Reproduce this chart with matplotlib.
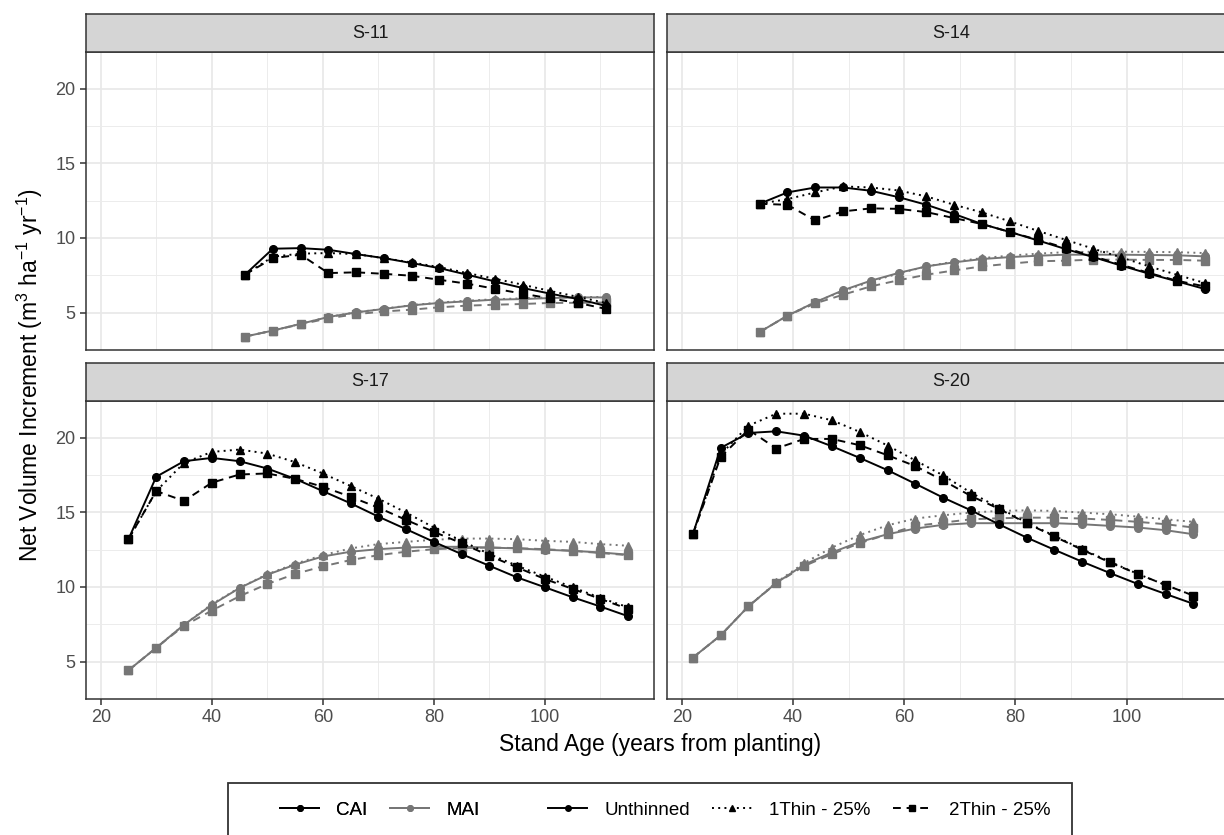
import matplotlib
matplotlib.use("Agg")
import matplotlib.pyplot as plt
from matplotlib.lines import Line2D
from matplotlib.patches import Rectangle

plt.rcParams['font.family'] = ['Liberation Sans', 'DejaVu Sans']
plt.rcParams['mathtext.fontset'] = 'custom'
plt.rcParams['mathtext.rm'] = 'Liberation Sans'
plt.rcParams['mathtext.it'] = 'Liberation Sans'

# Stand ages per site
age_s11 = [46, 51, 56, 61, 66, 71, 76, 81, 86, 91, 96, 101, 106, 111]
age_s14 = [34, 39, 44, 49, 54, 59, 64, 69, 74, 79, 84, 89, 94, 99, 104, 109, 114]
age_s17 = [25, 30, 35, 40, 45, 50, 55, 60, 65, 70, 75, 80, 85, 90, 95, 100, 105, 110, 115]
age_s20 = [22, 27, 32, 37, 42, 47, 52, 57, 62, 67, 72, 77, 82, 87, 92, 97, 102, 107, 112]

# CAI values
cai_s11_un = [7.55, 9.28, 9.32, 9.21, 8.92, 8.65, 8.32, 7.98, 7.54, 7.09, 6.65, 6.27, 5.91, 5.45]
cai_s11_t1 = [7.55, 8.75, 8.95, 8.99, 8.92, 8.65, 8.36, 8.05, 7.65, 7.27, 6.87, 6.45, 6.05, 5.65]
cai_s11_t2 = [7.55, 8.65, 8.88, 7.65, 7.70, 7.60, 7.47, 7.20, 6.94, 6.60, 6.27, 5.95, 5.65, 5.25]

cai_s14_un = [12.29, 13.05, 13.38, 13.38, 13.16, 12.73, 12.22, 11.60, 10.93, 10.40, 9.84, 9.26, 8.72, 8.15, 7.61, 7.10, 6.59]
cai_s14_t1 = [12.29, 12.60, 13.05, 13.45, 13.38, 13.18, 12.78, 12.22, 11.71, 11.11, 10.48, 9.88, 9.28, 8.70, 8.10, 7.54, 6.99]
cai_s14_t2 = [12.29, 12.22, 11.17, 11.78, 11.98, 11.95, 11.73, 11.33, 10.93, 10.40, 9.88, 9.33, 8.77, 8.21, 7.66, 7.14, 6.76]

cai_s17_un = [13.2, 17.38, 18.42, 18.64, 18.42, 17.93, 17.24, 16.42, 15.6, 14.71, 13.87, 13.02, 12.2, 11.42, 10.64, 9.98, 9.31, 8.69, 8.04]
cai_s17_t1 = [13.2, 16.42, 18.31, 19.04, 19.2, 18.93, 18.36, 17.6, 16.76, 15.91, 14.98, 13.98, 13.09, 12.2, 11.42, 10.69, 9.98, 9.27, 8.64]
cai_s17_t2 = [13.2, 16.42, 15.76, 16.98, 17.53, 17.6, 17.24, 16.71, 16.04, 15.31, 14.49, 13.69, 12.93, 12.09, 11.31, 10.53, 9.87, 9.2, 8.53]

cai_s20_un = [13.53, 19.31, 20.31, 20.42, 20.13, 19.42, 18.64, 17.82, 16.91, 15.98, 15.13, 14.2, 13.31, 12.49, 11.69, 10.93, 10.2, 9.53, 8.87]
cai_s20_t1 = [13.53, 18.87, 20.8, 21.6, 21.6, 21.16, 20.38, 19.47, 18.47, 17.47, 16.31, 15.31, 14.31, 13.42, 12.53, 11.69, 10.87, 10.13, 9.42]
cai_s20_t2 = [13.53, 18.71, 20.53, 19.27, 19.91, 19.91, 19.49, 18.82, 18.09, 17.13, 16.09, 15.24, 14.27, 13.38, 12.49, 11.64, 10.87, 10.13, 9.42]

# MAI values
mai_s11_un = [3.4, 3.8, 4.25, 4.71, 5.02, 5.25, 5.49, 5.65, 5.76, 5.87, 5.91, 5.98, 6.02, 6.02]
mai_s11_t1 = [3.4, 3.8, 4.25, 4.71, 5.02, 5.27, 5.5, 5.68, 5.8, 5.9, 5.96, 6.02, 6.05, 6.05]
mai_s11_t2 = [3.4, 3.8, 4.22, 4.62, 4.9, 5.08, 5.2, 5.36, 5.47, 5.53, 5.58, 5.65, 5.66, 5.68]

mai_s14_un = [3.7, 4.8, 5.7, 6.5, 7.14, 7.66, 8.1, 8.37, 8.59, 8.72, 8.81, 8.88, 8.88, 8.88, 8.86, 8.84, 8.77]
mai_s14_t1 = [3.7, 4.8, 5.7, 6.45, 7.08, 7.62, 8.1, 8.42, 8.65, 8.82, 8.95, 9.05, 9.08, 9.08, 9.07, 9.05, 8.99]
mai_s14_t2 = [3.7, 4.8, 5.62, 6.2, 6.76, 7.17, 7.54, 7.83, 8.1, 8.28, 8.44, 8.48, 8.55, 8.55, 8.53, 8.53, 8.48]

mai_s17_un = [4.42, 5.93, 7.47, 8.8, 9.93, 10.82, 11.49, 12.04, 12.36, 12.53, 12.64, 12.69, 12.69, 12.64, 12.58, 12.49, 12.42, 12.31, 12.16]
mai_s17_t1 = [4.42, 5.93, 7.47, 8.85, 9.95, 10.85, 11.55, 12.13, 12.58, 12.87, 13.02, 13.16, 13.24, 13.24, 13.2, 13.09, 13.02, 12.87, 12.76]
mai_s17_t2 = [4.42, 5.93, 7.4, 8.42, 9.38, 10.2, 10.87, 11.38, 11.8, 12.13, 12.36, 12.53, 12.6, 12.64, 12.6, 12.53, 12.42, 12.27, 12.13]

mai_s20_un = [5.27, 6.76, 8.71, 10.27, 11.49, 12.31, 13.02, 13.53, 13.91, 14.16, 14.27, 14.27, 14.27, 14.27, 14.2, 14.09, 13.98, 13.8, 13.53]
mai_s20_t1 = [5.27, 6.76, 8.71, 10.3, 11.6, 12.64, 13.47, 14.13, 14.58, 14.8, 14.98, 15.09, 15.13, 15.09, 14.98, 14.87, 14.71, 14.53, 14.36]
mai_s20_t2 = [5.27, 6.76, 8.71, 10.25, 11.4, 12.2, 12.93, 13.53, 14.09, 14.31, 14.53, 14.6, 14.64, 14.64, 14.58, 14.49, 14.36, 14.2, 13.98]

sites = ['S-11', 'S-14', 'S-17', 'S-20']
ages = [age_s11, age_s14, age_s17, age_s20]
cai = [(cai_s11_un, cai_s11_t1, cai_s11_t2), (cai_s14_un, cai_s14_t1, cai_s14_t2),
       (cai_s17_un, cai_s17_t1, cai_s17_t2), (cai_s20_un, cai_s20_t1, cai_s20_t2)]
mai = [(mai_s11_un, mai_s11_t1, mai_s11_t2), (mai_s14_un, mai_s14_t1, mai_s14_t2),
       (mai_s17_un, mai_s17_t1, mai_s17_t2), (mai_s20_un, mai_s20_t1, mai_s20_t2)]

treatments = ['Unthinned', '1Thin - 25%', '2Thin - 25%']
styles = ['-', (0, (1, 2.2)), (0, (4, 3))]
markers = ['o', '^', 's']
cai_color = 'black'
mai_color = '#767676'

W, H = 1224, 835
fig = plt.figure(figsize=(W / 100, H / 100), dpi=100)


def box(x0, y0, x1, y1):
    return [x0 / W, 1 - y1 / H, (x1 - x0) / W, (y1 - y0) / H]


panels = [(86, 654, 52, 350), (667, 1236, 52, 350), (86, 654, 401, 699), (667, 1236, 401, 699)]
strip_h = 38

for i, (x0, x1, y0, y1) in enumerate(panels):
    ax = fig.add_axes(box(x0, y0, x1, y1))
    ax.set_xlim(17.35, 119.65)
    ax.set_ylim(2.55, 22.45)
    ax.set_xticks([20, 40, 60, 80, 100])
    ax.set_xticks([30, 50, 70, 90, 110], minor=True)
    ax.set_yticks([5, 10, 15, 20])
    ax.set_yticks([2.5, 7.5, 12.5, 17.5], minor=True)
    ax.grid(True, which='major', color='#e8e8e8', lw=1.2)
    ax.grid(True, which='minor', color='#ececec', lw=0.7)
    ax.set_axisbelow(True)
    for sp in ax.spines.values():
        sp.set_color('#333333')
        sp.set_linewidth(1.1)
    ax.tick_params(which='minor', length=0)
    ax.tick_params(which='major', colors='#333333', labelcolor='#4d4d4d',
                   labelsize=13, length=4, width=1.1)
    if i % 2 == 1:
        ax.tick_params(axis='y', left=False, labelleft=False)
    if i < 2:
        ax.tick_params(axis='x', bottom=False, labelbottom=False)

    for k in range(3):
        ax.plot(ages[i], mai[i][k], color=mai_color, ls=styles[k], marker=markers[k],
                ms=5.5, lw=1.4, zorder=2)
    for k in range(3):
        ax.plot(ages[i], cai[i][k], color=cai_color, ls=styles[k], marker=markers[k],
                ms=5.5, lw=1.4, zorder=3)

    sax = fig.add_axes(box(x0, y0 - strip_h, x1, y0))
    sax.set_facecolor('#d5d5d5')
    sax.set_xticks([])
    sax.set_yticks([])
    for sp in sax.spines.values():
        sp.set_color('#333333')
        sp.set_linewidth(1.1)
    sax.text(0.5, 0.5, sites[i], transform=sax.transAxes, ha='center', va='center',
             fontsize=13, color='#1a1a1a')

fig.text(660 / W, 1 - 745 / H, 'Stand Age (years from planting)', ha='center', va='center',
         fontsize=16.5)
fig.text(30 / W, 1 - 375 / H, r'Net Volume Increment (m$^3$ ha$^{-1}$ yr$^{-1}$)',
         ha='center', va='center', rotation=90, fontsize=16.5)

# legend box
fig.patches.append(Rectangle((228 / W, 1 - 840 / H), (1072 - 228) / W, (840 - 783) / H,
                             transform=fig.transFigure, fill=False, ec='#333333', lw=1.3))

kind_handles = [Line2D([], [], color=cai_color, marker='o', ms=4, lw=1.4),
                Line2D([], [], color=mai_color, marker='o', ms=4, lw=1.4)]
trt_handles = [Line2D([], [], color='black', ls=styles[k], marker=markers[k], ms=4, lw=1.4)
               for k in range(3)]
leg_opts = dict(frameon=False, fontsize=13.5, handlelength=2.1, handletextpad=0.9,
                columnspacing=1.2, borderpad=0, borderaxespad=0)
leg1 = fig.legend(kind_handles, ['CAI', 'MAI'], ncol=2, loc='center left',
                  bbox_to_anchor=(280 / W, 1 - 810 / H), **leg_opts)
fig.legend(trt_handles, treatments, ncol=3, loc='center left',
           bbox_to_anchor=(548 / W, 1 - 810 / H), **leg_opts)
fig.add_artist(leg1)

fig.savefig('out.png', dpi=100)
